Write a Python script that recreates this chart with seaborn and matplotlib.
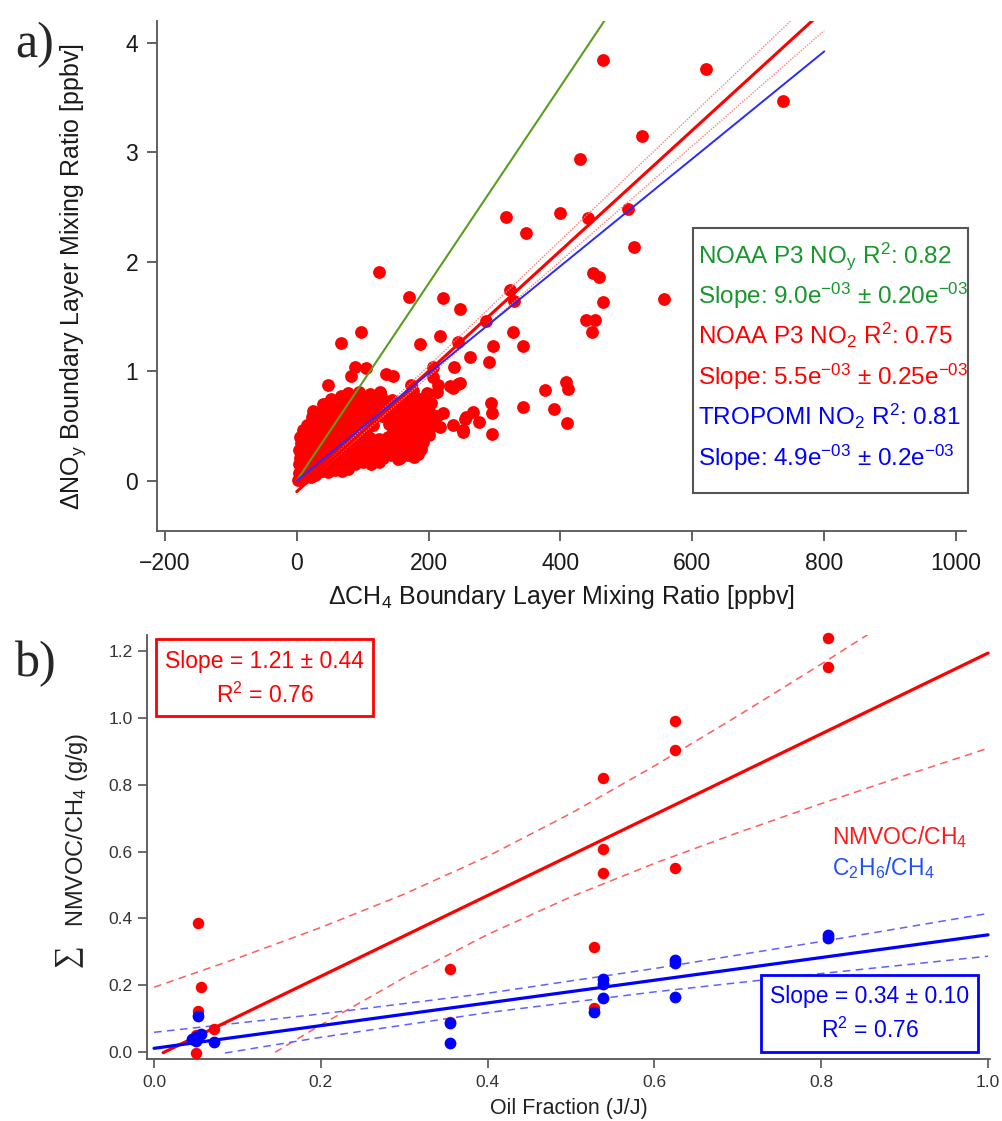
import pandas as pd
import numpy as np
import matplotlib.pyplot as plt
import seaborn as sns
from matplotlib.patches import Rectangle

# ---------------- panel a data ----------------
# scattered points outside the dense cloud (dCH4 ppbv, dNOy ppbv)
outlier_pts = [
    (465, 3.84), (620, 3.76), (738, 3.47), (524, 3.15), (429, 2.94), (318, 2.41),
    (400, 2.44), (348, 2.26), (441, 2.40), (503, 2.48), (512, 2.13), (450, 1.90),
    (458, 1.86), (124, 1.91), (170, 1.68), (222, 1.67), (248, 1.57), (324, 1.74),
    (330, 1.64), (465, 1.63), (557, 1.66), (97, 1.36), (67, 1.26), (187, 1.25),
    (218, 1.32), (245, 1.27), (287, 1.46), (328, 1.36), (343, 1.23), (298, 1.23),
    (262, 1.13), (291, 1.08), (239, 1.04), (207, 1.04), (438, 1.47), (453, 1.47),
    (448, 1.36), (377, 0.83), (409, 0.90), (412, 0.84), (343, 0.67), (390, 0.65),
    (410, 0.53), (294, 0.71), (296, 0.62), (296, 0.43), (267, 0.63), (255, 0.56),
    (277, 0.54), (252, 0.44), (237, 0.85), (244, 0.88), (48, 0.87), (83, 0.96),
    (89, 1.04), (105, 1.03), (136, 0.97), (146, 0.96), (45, 0.70), (73, 0.70),
    (174, 0.87), (181, 0.72), (204, 0.71), (214, 0.87), (206, 0.95), (222, 0.62),
    (237, 0.51), (217, 0.49), (184, 0.24), (154, 0.20), (126, 0.80), (232, 0.86),
    (247, 0.89), (257, 0.58), (252, 0.46),
]

# dense cloud near the origin
cloud_pts = [
    (2, 0.01), (6, 0.03), (11, 0.02), (16, 0.04), (22, 0.03), (28, 0.05),
    (3, 0.07), (9, 0.09), (15, 0.08), (22, 0.10), (30, 0.07), (39, 0.09), (48, 0.08),
    (58, 0.10), (68, 0.09), (78, 0.11),
    (4, 0.15), (11, 0.13), (19, 0.15), (28, 0.14), (37, 0.16), (47, 0.13), (57, 0.15),
    (67, 0.14), (78, 0.16), (89, 0.15), (100, 0.17), (112, 0.15), (124, 0.17),
    (5, 0.21), (14, 0.19), (24, 0.22), (34, 0.20), (45, 0.21), (57, 0.19), (69, 0.22),
    (81, 0.20), (93, 0.22), (105, 0.20), (118, 0.22), (131, 0.21), (143, 0.23),
    (156, 0.21), (168, 0.23), (178, 0.22),
    (4, 0.28), (12, 0.26), (22, 0.28), (32, 0.27), (43, 0.29), (55, 0.26), (67, 0.28),
    (79, 0.27), (92, 0.29), (104, 0.27), (117, 0.28), (130, 0.27), (143, 0.29),
    (156, 0.27), (168, 0.28), (180, 0.27), (189, 0.29),
    (6, 0.34), (16, 0.32), (27, 0.34), (39, 0.33), (51, 0.35), (63, 0.32), (76, 0.34),
    (88, 0.33), (101, 0.35), (114, 0.33), (127, 0.34), (141, 0.33), (154, 0.35),
    (167, 0.33), (180, 0.34), (191, 0.35),
    (5, 0.40), (14, 0.38), (25, 0.40), (37, 0.39), (49, 0.41), (61, 0.38), (74, 0.40),
    (86, 0.39), (99, 0.41), (111, 0.39), (124, 0.38), (139, 0.40), (152, 0.39),
    (165, 0.41), (178, 0.39), (191, 0.40), (200, 0.42),
    (9, 0.46), (19, 0.44), (31, 0.46), (43, 0.45), (55, 0.47), (68, 0.44), (81, 0.46),
    (94, 0.45), (106, 0.47), (146, 0.45), (158, 0.47), (171, 0.45), (184, 0.46),
    (196, 0.44),
    (15, 0.51), (26, 0.53), (39, 0.50), (51, 0.52), (64, 0.51), (77, 0.53), (90, 0.50),
    (102, 0.52), (115, 0.51), (140, 0.52), (152, 0.50), (165, 0.53), (178, 0.51),
    (191, 0.52), (205, 0.50),
    (23, 0.58), (34, 0.56), (47, 0.58), (60, 0.57), (74, 0.59), (88, 0.56), (101, 0.58),
    (115, 0.57), (129, 0.59), (143, 0.57), (157, 0.58), (171, 0.56), (185, 0.58),
    (199, 0.57), (212, 0.59),
    (25, 0.64), (38, 0.62), (51, 0.64), (64, 0.63), (78, 0.65), (92, 0.62), (106, 0.64),
    (119, 0.63), (133, 0.65), (147, 0.62), (160, 0.64), (174, 0.63), (188, 0.65),
    (202, 0.62),
    (40, 0.70), (55, 0.68), (70, 0.70), (86, 0.69), (101, 0.71), (116, 0.68), (130, 0.70),
    (145, 0.69), (160, 0.71), (177, 0.69), (193, 0.70),
    (52, 0.75), (67, 0.77), (82, 0.74), (98, 0.76), (113, 0.75), (128, 0.77), (144, 0.74),
    (168, 0.76), (186, 0.75),
    (78, 0.80), (95, 0.81), (111, 0.79), (126, 0.81), (176, 0.82), (197, 0.80), (212, 0.81),
]

# fit lines (end points)
fit_x = [0, 800]
noy_fit_y = [0.0, 7.20]
no2_fit_y = [-0.10, 4.30]
no2_hi_y = [-0.10, 4.49]
no2_lo_y = [-0.10, 4.11]
trop_fit_y = [0.0, 3.92]

legend_a = [
    ('NOAA P3 NO$_y$ R$^2$: 0.82', '#17962b'),
    ('Slope: 9.0e$^{-03}$ ± 0.20e$^{-03}$', '#17962b'),
    ('NOAA P3 NO$_2$ R$^2$: 0.75', '#ff0000'),
    ('Slope: 5.5e$^{-03}$ ± 0.25e$^{-03}$', '#ff0000'),
    ('TROPOMI NO$_2$ R$^2$: 0.81', '#0000ff'),
    ('Slope: 4.9e$^{-03}$ ± 0.2e$^{-03}$', '#0000ff'),
]

xticks_a = [-200, 0, 200, 400, 600, 800, 1000]
yticks_a = [0, 1, 2, 3, 4]

# ---------------- panel b data ----------------
oil_red = [0.050, 0.050, 0.053, 0.053, 0.056, 0.072, 0.355, 0.355, 0.527, 0.527,
           0.538, 0.538, 0.538, 0.625, 0.625, 0.625, 0.8085, 0.8085]
nmvoc = [-0.002, 0.050, 0.124, 0.385, 0.195, 0.069, 0.248, 0.090, 0.316, 0.131,
         0.821, 0.608, 0.535, 0.991, 0.904, 0.552, 1.240, 1.152]

oil_blue = [0.053, 0.056, 0.050, 0.050, 0.046, 0.072, 0.355, 0.355, 0.527, 0.538,
            0.538, 0.538, 0.625, 0.625, 0.625, 0.8085, 0.8085]
ethane = [0.109, 0.054, 0.046, 0.034, 0.040, 0.029, 0.088, 0.026, 0.119, 0.219,
          0.204, 0.161, 0.275, 0.267, 0.164, 0.350, 0.340]

red_fit_x = [0.011, 1.0]
red_fit_y = [-0.002, 1.195]
red_hi_x = [0.0, 0.1, 0.2, 0.3, 0.4, 0.5, 0.6, 0.7, 0.8, 0.86]
red_hi_y = [0.194, 0.281, 0.373, 0.473, 0.586, 0.715, 0.857, 1.007, 1.162, 1.257]
red_lo_x = [0.145, 0.2, 0.3, 0.4, 0.5, 0.6, 0.7, 0.8, 0.9, 1.0]
red_lo_y = [-0.001, 0.081, 0.223, 0.352, 0.465, 0.565, 0.657, 0.744, 0.828, 0.910]

blue_fit_x = [0.0, 1.0]
blue_fit_y = [0.011, 0.351]
blue_hi_x = [0.0, 0.2, 0.4, 0.6, 0.8, 1.0]
blue_hi_y = [0.059, 0.114, 0.176, 0.250, 0.331, 0.415]
blue_lo_x = [0.085, 0.2, 0.4, 0.6, 0.8, 1.0]
blue_lo_y = [-0.003, 0.044, 0.118, 0.180, 0.235, 0.287]

xticks_b = [0.0, 0.2, 0.4, 0.6, 0.8, 1.0]
yticks_b = [0.0, 0.2, 0.4, 0.6, 0.8, 1.0, 1.2]

# ---------------- style ----------------
sns.set_theme(style='ticks')
plt.rcParams['font.family'] = ['Liberation Sans', 'DejaVu Sans']
plt.rcParams['mathtext.default'] = 'regular'
plt.rcParams['axes.edgecolor'] = '#555555'
plt.rcParams['axes.linewidth'] = 1.3

SERIF = ['Liberation Serif', 'DejaVu Serif']


def line(ax, x, y, **kw):
    df = pd.DataFrame({'x': x, 'y': y})
    sns.lineplot(data=df, x='x', y='y', ax=ax, sort=False, estimator=None, **kw)


fig = plt.figure(figsize=(10.03, 11.21), dpi=100)

# ======== panel a ========
ax1 = fig.add_axes([0.1565, 0.5259, 0.8066, 0.4554])
pts = pd.DataFrame(cloud_pts + outlier_pts, columns=['dch4', 'dnoy'])
sns.scatterplot(data=pts, x='dch4', y='dnoy', ax=ax1, color='#ff0000', s=85,
                linewidth=0, zorder=2)

line(ax1, fit_x, noy_fit_y, color='#5a9e1c', linewidth=1.5, zorder=3)
line(ax1, fit_x, no2_hi_y, color='#ff8080', linewidth=1.0, linestyle=(0, (1, 1)), zorder=3)
line(ax1, fit_x, no2_lo_y, color='#ff8080', linewidth=1.0, linestyle=(0, (1, 1)), zorder=3)
line(ax1, fit_x, no2_fit_y, color='#ff0000', linewidth=2.2, zorder=3)
line(ax1, fit_x, trop_fit_y, color='#2a2aff', linewidth=1.4, zorder=3)

ax1.set_xlim(-212, 1015)
ax1.set_ylim(-0.464, 4.198)
ax1.set_xticks(xticks_a)
ax1.set_yticks(yticks_a)
ax1.tick_params(axis='both', direction='out', length=7.5, width=1.3, color='#555555',
                labelsize=16.5, labelcolor='#1a1a1a')
ax1.tick_params(axis='x', pad=7)
ax1.tick_params(axis='y', pad=6)
ax1.set_xlabel('ΔCH$_4$ Boundary Layer Mixing Ratio [ppbv]', fontsize=18, color='#1a1a1a',
               labelpad=6)
ax1.set_ylabel('ΔNO$_y$ Boundary Layer Mixing Ratio [ppbv]', fontsize=18, color='#1a1a1a')
ax1.yaxis.set_label_coords(-0.085, 0.5)
sns.despine(ax=ax1)

ax1.add_patch(Rectangle((0.6625, 0.0754), 0.34, 0.5191, transform=ax1.transAxes,
                        facecolor='white', edgecolor='#555555', linewidth=1.5,
                        clip_on=False, zorder=4))
baselines_a = [0.5255, 0.4461, 0.3673, 0.2879, 0.2086, 0.1293]
for (txt, col), yb in zip(legend_a, baselines_a):
    ax1.text(0.6687, yb, txt, transform=ax1.transAxes, color=col, fontsize=17.5,
             ha='left', va='baseline', zorder=5)

# ======== panel b ========
ax2 = fig.add_axes([0.1466, 0.0553, 0.8405, 0.3782])

dash = (0, (5, 3.5))
line(ax2, red_hi_x, red_hi_y, color='#ff5c5c', linewidth=1.1, linestyle=dash)
line(ax2, red_lo_x, red_lo_y, color='#ff5c5c', linewidth=1.1, linestyle=dash)
line(ax2, blue_hi_x, blue_hi_y, color='#6060ff', linewidth=1.1, linestyle=dash)
line(ax2, blue_lo_x, blue_lo_y, color='#6060ff', linewidth=1.1, linestyle=dash)
line(ax2, red_fit_x, red_fit_y, color='#ff0000', linewidth=2.3)
line(ax2, blue_fit_x, blue_fit_y, color='#0000ff', linewidth=2.3)

red_df = pd.DataFrame({'oil': oil_red, 'ratio': nmvoc})
blue_df = pd.DataFrame({'oil': oil_blue, 'ratio': ethane})
sns.scatterplot(data=red_df, x='oil', y='ratio', ax=ax2, color='#ff0000', s=68,
                linewidth=0, zorder=4, clip_on=False)
sns.scatterplot(data=blue_df, x='oil', y='ratio', ax=ax2, color='#0000ff', s=72,
                linewidth=0, zorder=5, clip_on=False)

ax2.set_xlim(-0.0084, 1.0024)
ax2.set_ylim(-0.021, 1.249)
ax2.set_xticks(xticks_b)
ax2.set_xticklabels([f'{v:.1f}' for v in xticks_b])
ax2.set_yticks(yticks_b)
ax2.set_yticklabels([f'{v:.1f}' for v in yticks_b])
ax2.tick_params(axis='both', direction='out', length=6.5, width=1.2, color='#555555',
                labelsize=12.5, labelcolor='#333333')
ax2.tick_params(axis='x', pad=5)
ax2.tick_params(axis='y', pad=4)
ax2.set_xlabel('Oil Fraction (J/J)', fontsize=15.5, color='#222222', labelpad=6)
ax2.set_ylabel('NMVOC/CH$_4$ (g/g)', fontsize=17, color='#222222')
ax2.yaxis.set_label_coords(-0.068, 0.54)
ax2.text(-0.095, 0.243, '∑', transform=ax2.transAxes, rotation=90, fontsize=23,
         family=SERIF, ha='center', va='center', color='#222222')
sns.despine(ax=ax2)

# stats boxes
ax2.add_patch(Rectangle((0.0107, 0.809), 0.2573, 0.1816, transform=ax2.transAxes,
                        facecolor='white', edgecolor='#ff0000', linewidth=2.0, zorder=6))
ax2.text(0.1394, 0.9387, 'Slope = 1.21 ± 0.44', transform=ax2.transAxes, color='#ff0000',
         fontsize=16.5, ha='center', va='center', zorder=7)
ax2.text(0.1394, 0.8585, 'R$^2$ = 0.76', transform=ax2.transAxes, color='#ff0000',
         fontsize=16.5, ha='center', va='center', zorder=7)

ax2.add_patch(Rectangle((0.728, 0.0165), 0.2578, 0.1815, transform=ax2.transAxes,
                        facecolor='white', edgecolor='#0000ff', linewidth=2.0, zorder=6))
ax2.text(0.857, 0.1486, 'Slope = 0.34 ± 0.10', transform=ax2.transAxes, color='#0000ff',
         fontsize=16.5, ha='center', va='center', zorder=7)
ax2.text(0.857, 0.0684, 'R$^2$ = 0.76', transform=ax2.transAxes, color='#0000ff',
         fontsize=16.5, ha='center', va='center', zorder=7)

ax2.text(0.8126, 0.5236, 'NMVOC/CH$_4$', transform=ax2.transAxes, color='#ff1a1a',
         fontsize=16.5, ha='left', va='center')
ax2.text(0.8126, 0.4505, 'C$_2$H$_6$/CH$_4$', transform=ax2.transAxes, color='#1f4fff',
         fontsize=16.5, ha='left', va='center')

# panel letters
fig.text(0.035, 0.960, 'a)', family=SERIF, fontsize=36, ha='center', va='center')
fig.text(0.036, 0.4077, 'b)', family=SERIF, fontsize=36, ha='center', va='center')

fig.savefig('out.png', dpi=100)
